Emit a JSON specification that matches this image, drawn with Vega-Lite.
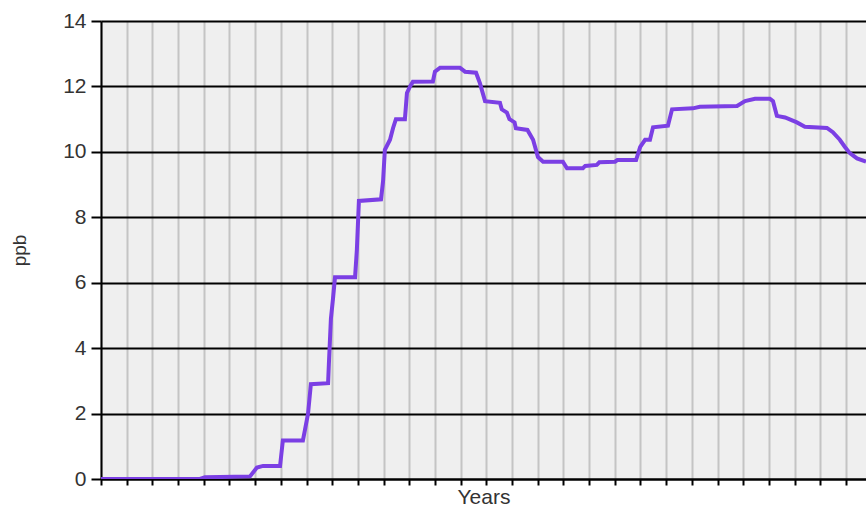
{
  "$schema": "https://vega.github.io/schema/vega-lite/v6.json",
  "width": 765,
  "height": 458,
  "autosize": {"type": "none"},
  "padding": {"left": 101, "top": 21, "right": 0, "bottom": 29},
  "background": "white",
  "config": {
    "view": {"fill": "#efefef", "stroke": null},
    "font": "Liberation Sans"
  },
  "data": {
    "values": [
      {"t": 0.0, "ppb": 0.0},
      {"t": 3.85, "ppb": 0.0},
      {"t": 4.05, "ppb": 0.05},
      {"t": 5.8, "ppb": 0.08},
      {"t": 6.07, "ppb": 0.35},
      {"t": 6.31, "ppb": 0.4},
      {"t": 6.97, "ppb": 0.4},
      {"t": 7.08, "ppb": 1.18},
      {"t": 7.86, "ppb": 1.18},
      {"t": 7.94, "ppb": 1.5},
      {"t": 8.06, "ppb": 2.0},
      {"t": 8.17, "ppb": 2.9},
      {"t": 8.84, "ppb": 2.93},
      {"t": 8.87, "ppb": 3.5},
      {"t": 8.95, "ppb": 4.9},
      {"t": 9.03, "ppb": 5.5},
      {"t": 9.11, "ppb": 6.17},
      {"t": 9.89, "ppb": 6.17},
      {"t": 9.96, "ppb": 7.0},
      {"t": 10.04, "ppb": 8.5},
      {"t": 10.9, "ppb": 8.55},
      {"t": 10.98, "ppb": 9.1},
      {"t": 11.05, "ppb": 10.06},
      {"t": 11.25, "ppb": 10.37},
      {"t": 11.37, "ppb": 10.73},
      {"t": 11.48, "ppb": 11.0},
      {"t": 11.83, "ppb": 11.0},
      {"t": 11.87, "ppb": 11.4},
      {"t": 11.91, "ppb": 11.8},
      {"t": 12.03, "ppb": 12.0},
      {"t": 12.14, "ppb": 12.14},
      {"t": 12.92, "ppb": 12.15},
      {"t": 13.0, "ppb": 12.45},
      {"t": 13.2, "ppb": 12.57},
      {"t": 13.97, "ppb": 12.57},
      {"t": 14.17, "ppb": 12.45},
      {"t": 14.6, "ppb": 12.42},
      {"t": 14.75, "ppb": 12.1},
      {"t": 14.95, "ppb": 11.55},
      {"t": 15.53, "ppb": 11.5},
      {"t": 15.6, "ppb": 11.3},
      {"t": 15.8, "ppb": 11.2},
      {"t": 15.9, "ppb": 11.0},
      {"t": 16.1, "ppb": 10.9},
      {"t": 16.15, "ppb": 10.72},
      {"t": 16.6, "ppb": 10.67},
      {"t": 16.82, "ppb": 10.37},
      {"t": 17.01, "ppb": 9.84},
      {"t": 17.21, "ppb": 9.7},
      {"t": 17.98, "ppb": 9.7},
      {"t": 18.14, "ppb": 9.5},
      {"t": 18.76, "ppb": 9.5},
      {"t": 18.85, "ppb": 9.57},
      {"t": 19.3, "ppb": 9.6},
      {"t": 19.4, "ppb": 9.68},
      {"t": 20.01, "ppb": 9.7},
      {"t": 20.1, "ppb": 9.75},
      {"t": 20.83, "ppb": 9.75},
      {"t": 20.99, "ppb": 10.15},
      {"t": 21.18, "ppb": 10.37},
      {"t": 21.37, "ppb": 10.37},
      {"t": 21.49, "ppb": 10.75},
      {"t": 22.07, "ppb": 10.8},
      {"t": 22.23, "ppb": 11.3},
      {"t": 23.04, "ppb": 11.33},
      {"t": 23.31, "ppb": 11.38},
      {"t": 24.76, "ppb": 11.4},
      {"t": 25.07, "ppb": 11.55},
      {"t": 25.46, "ppb": 11.62},
      {"t": 26.04, "ppb": 11.62},
      {"t": 26.16, "ppb": 11.55},
      {"t": 26.31, "ppb": 11.1},
      {"t": 26.63, "ppb": 11.05},
      {"t": 27.09, "ppb": 10.9},
      {"t": 27.4, "ppb": 10.77},
      {"t": 28.26, "ppb": 10.73},
      {"t": 28.49, "ppb": 10.6},
      {"t": 28.76, "ppb": 10.37},
      {"t": 28.96, "ppb": 10.15},
      {"t": 29.15, "ppb": 9.96},
      {"t": 29.43, "ppb": 9.8},
      {"t": 29.78, "ppb": 9.7}
    ]
  },
  "mark": {"type": "line", "color": "#7b3fe4", "strokeWidth": 4, "clip": true, "strokeJoin": "miter"},
  "encoding": {
    "x": {
      "field": "t",
      "type": "quantitative",
      "scale": {"domain": [0, 29.78], "nice": false, "zero": false},
      "axis": {
        "title": "Years",
        "titleFontSize": 21,
        "titleFontWeight": "normal",
        "titleColor": "#333333",
        "titlePadding": 0,
        "labels": false,
        "values": [0,1,2,3,4,5,6,7,8,9,10,11,12,13,14,15,16,17,18,19,20,21,22,23,24,25,26,27,28,29],
        "tickSize": 6,
        "tickColor": "#000000",
        "tickWidth": 2,
        "domainColor": "#000000",
        "domainWidth": 2,
        "grid": true,
        "gridColor": "#c4c4c4",
        "gridWidth": 2,
        "gridOpacity": 1
      }
    },
    "y": {
      "field": "ppb",
      "type": "quantitative",
      "scale": {"domain": [0, 14], "nice": false},
      "axis": {
        "title": "ppb",
        "titleFontSize": 19,
        "titleFontWeight": "normal",
        "titleColor": "#333333",
        "titlePadding": 33,
        "values": [0, 2, 4, 6, 8, 10, 12, 14],
        "labelFontSize": 21,
        "labelColor": "#333333",
        "labelPadding": 5,
        "tickSize": 10,
        "tickColor": "#000000",
        "tickWidth": 2,
        "domainColor": "#000000",
        "domainWidth": 2,
        "grid": true,
        "gridColor": "#000000",
        "gridWidth": 2,
        "gridOpacity": 1
      }
    }
  }
}
